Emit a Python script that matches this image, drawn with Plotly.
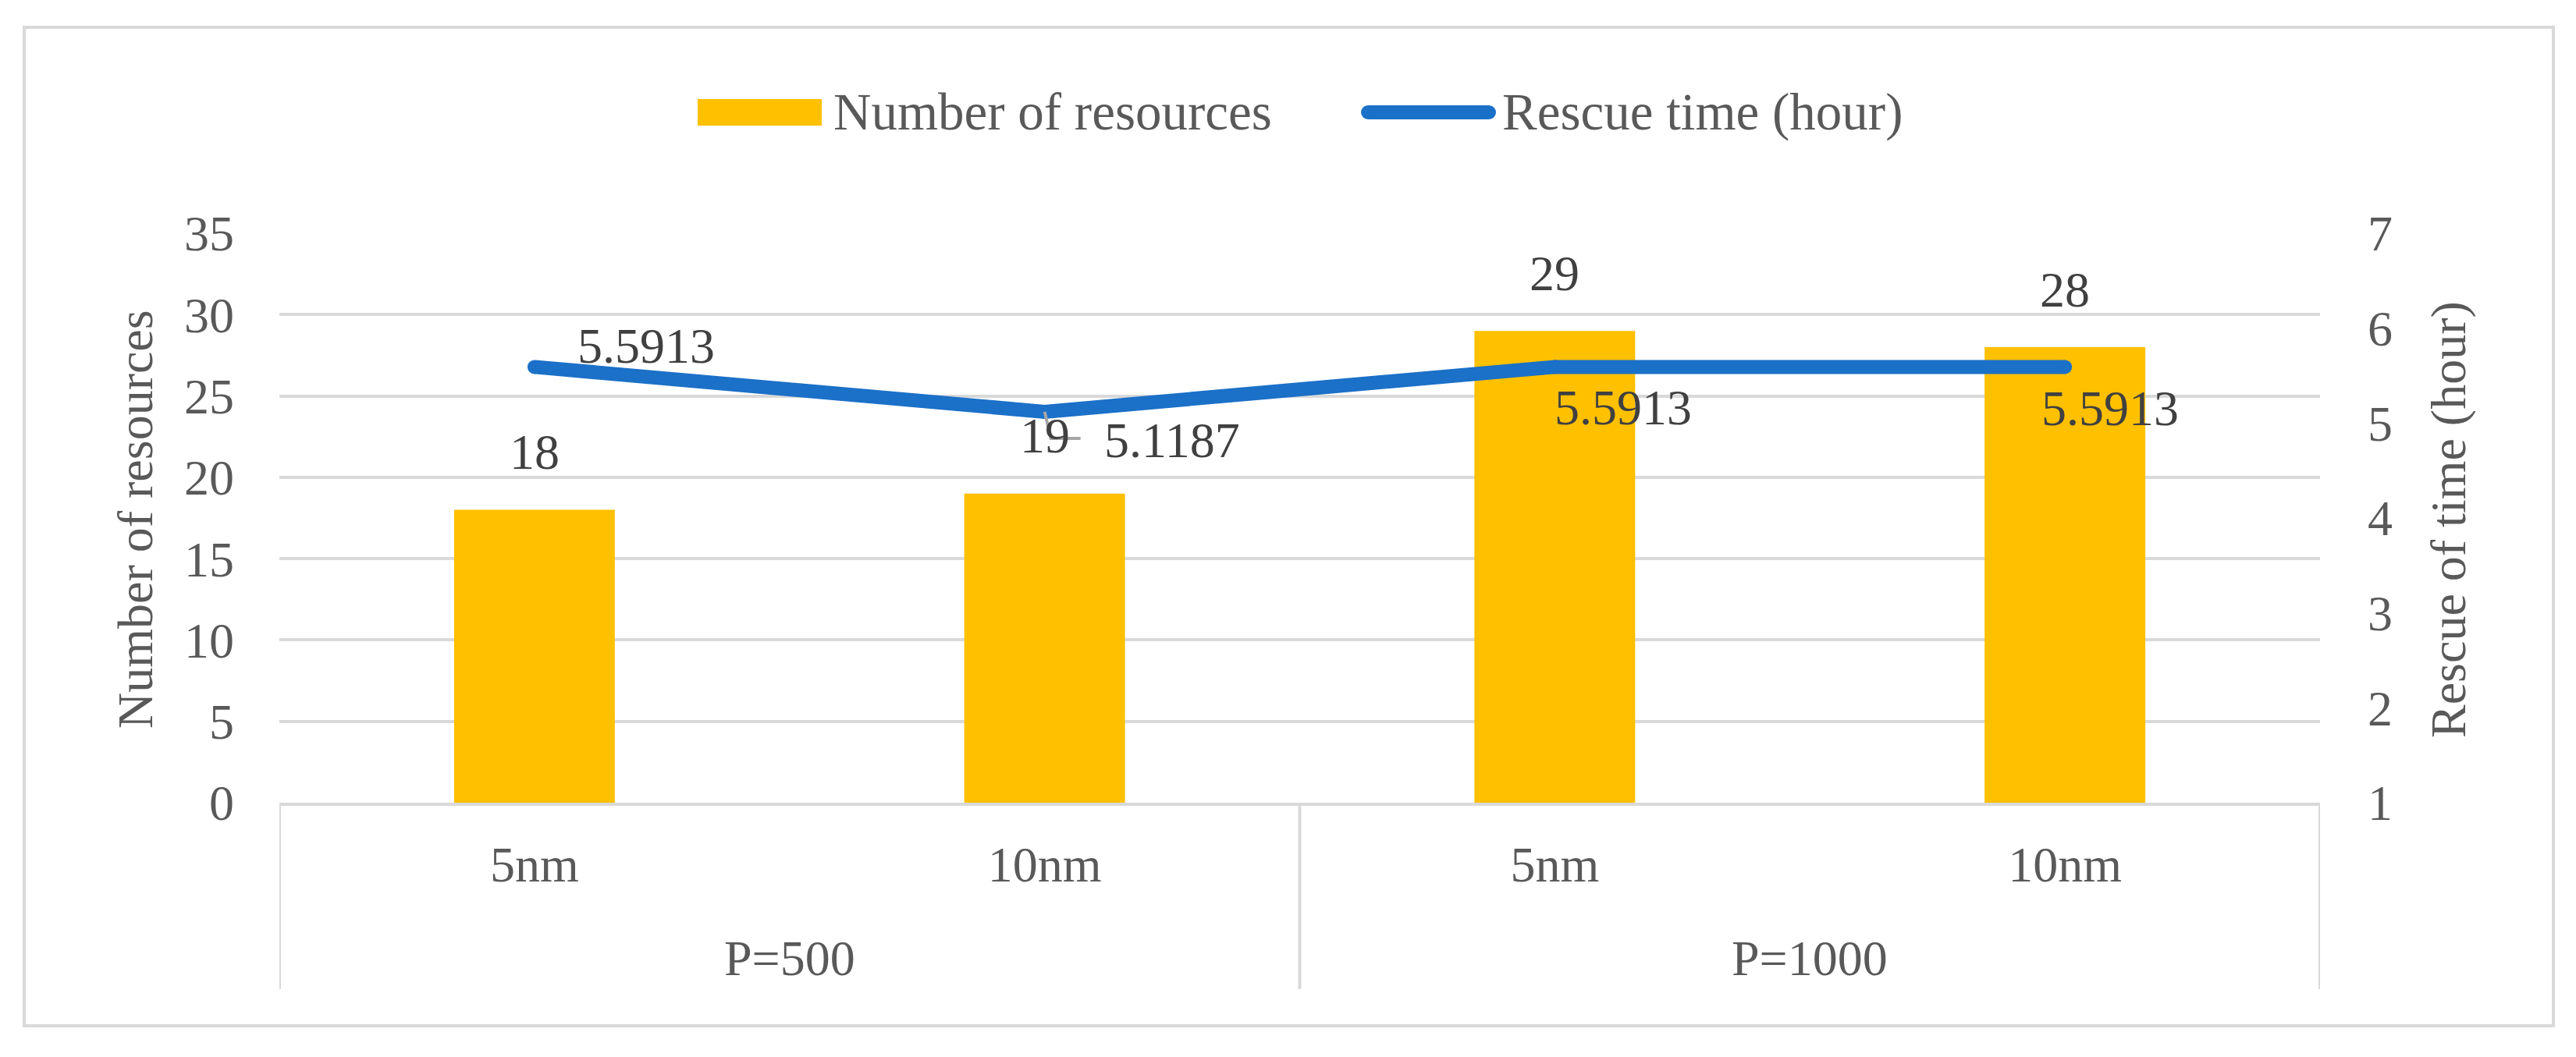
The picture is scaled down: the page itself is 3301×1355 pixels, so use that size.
import plotly.graph_objects as go

# ---------------- data ----------------
sub_categories = ["5nm", "10nm", "5nm", "10nm"]
group_of = ["P=500", "P=500", "P=1000", "P=1000"]
groups = ["P=500", "P=1000"]
resources = [18, 19, 29, 28]
rescue_time = [5.5913, 5.1187, 5.5913, 5.5913]
y_ticks = [0, 5, 10, 15, 20, 25, 30, 35]
y2_ticks = [1, 2, 3, 4, 5, 6, 7]
series_names = ["Number of resources", "Rescue time (hour)"]
y_title = "Number of resources"
y2_title = "Rescue of time (hour)"

# ---------------- layout constants ----------------
W, H = 3301, 1355
L, R, T, B = 358, 2973, 299, 1029          # plot-area edges in pixels
FONT = "Liberation Serif, Times New Roman, serif"
FS = 64
LEG_FS = 67
BAR_C = "#FFC000"
LINE_C = "#1B70C8"
GRID_C = "#D9D9D9"
TICK_C = "#595959"
LABEL_C = "#404040"


def px(x):
    return (x - L) / (R - L)


def py(y):
    return (B - y) / (B - T)


idx = list(range(len(sub_categories)))

fig = go.Figure()
fig.add_trace(go.Bar(
    x=idx, y=resources, name=series_names[0], width=0.315,
    marker=dict(color=BAR_C, line=dict(width=0)), showlegend=False,
))
fig.add_trace(go.Scatter(
    x=idx, y=rescue_time, name=series_names[1], yaxis="y2",
    mode="lines+markers", line=dict(color=LINE_C, width=18),
    marker=dict(size=18, color=LINE_C, line=dict(width=0)), showlegend=False,
))

annotations = []
shapes = []

# bar data labels
for i, v in zip(idx, resources):
    annotations.append(dict(x=i, y=v, xref="x", yref="y", text=str(v), showarrow=False,
                            yshift=74, font=dict(family=FONT, size=FS, color=LABEL_C)))

# line data labels (pixel offsets as placed in the original)
line_label_offsets = [(143, 27), (163, -37), (88, -52), (58, -53)]
for i, v, (dx, dy) in zip(idx, rescue_time, line_label_offsets):
    annotations.append(dict(x=i, y=v, xref="x", yref="y2", text=f"{v:.4f}", showarrow=False,
                            xshift=dx, yshift=dy, font=dict(family=FONT, size=FS, color=LABEL_C)))

# leader line for the second line label
shapes.append(dict(type="path", xref="x", yref="y2", xsizemode="pixel", ysizemode="pixel",
                   xanchor=idx[1], yanchor=rescue_time[1],
                   path="M0,0 L8,-34 L46,-34", line=dict(color="#A6A6A6", width=4)))

# group labels and dividers
start = -0.5
for g in groups:
    n = group_of.count(g)
    center = start + n / 2
    annotations.append(dict(x=center, y=py(1228), xref="x", yref="paper", text=g, showarrow=False,
                            yanchor="middle", font=dict(family=FONT, size=FS, color=TICK_C)))
    shapes.append(dict(type="line", xref="x", yref="paper", x0=start, x1=start, y0=0, y1=py(1268),
                       line=dict(color=GRID_C, width=4)))
    start += n
shapes.append(dict(type="line", xref="x", yref="paper", x0=start, x1=start, y0=0, y1=py(1268),
                   line=dict(color=GRID_C, width=4)))

# axis titles
annotations.append(dict(x=px(173), y=py(666), xref="paper", yref="paper", text=y_title, textangle=-90,
                        xanchor="center", yanchor="middle",
                        showarrow=False, font=dict(family=FONT, size=FS, color=TICK_C)))
annotations.append(dict(x=px(3137), y=py(666), xref="paper", yref="paper", text=y2_title, textangle=-90,
                        xanchor="center", yanchor="middle",
                        showarrow=False, font=dict(family=FONT, size=FS, color=TICK_C)))

# custom legend
shapes.append(dict(type="rect", xref="paper", yref="paper", x0=px(894), x1=px(1053), y0=py(161), y1=py(127),
                   fillcolor=BAR_C, line=dict(width=0)))
shapes.append(dict(type="line", xref="paper", yref="paper", x0=px(1753), x1=px(1908), y0=py(144), y1=py(144),
                   line=dict(color=LINE_C, width=18)))
shapes.append(dict(type="circle", xref="paper", yref="paper", x0=px(1744), x1=px(1762), y0=py(153), y1=py(135),
                   fillcolor=LINE_C, line=dict(width=0)))
shapes.append(dict(type="circle", xref="paper", yref="paper", x0=px(1899), x1=px(1917), y0=py(153), y1=py(135),
                   fillcolor=LINE_C, line=dict(width=0)))
annotations.append(dict(x=px(1066), y=py(143), xref="paper", yref="paper", text=series_names[0],
                        xanchor="left", yanchor="middle", showarrow=False,
                        font=dict(family=FONT, size=LEG_FS, color=TICK_C)))
annotations.append(dict(x=px(1923), y=py(143), xref="paper", yref="paper", text=series_names[1],
                        xanchor="left", yanchor="middle", showarrow=False,
                        font=dict(family=FONT, size=LEG_FS, color=TICK_C)))

# outer chart border
shapes.append(dict(type="rect", xref="paper", yref="paper", x0=px(31), x1=px(3272), y0=py(1315), y1=py(35),
                   line=dict(color=GRID_C, width=4), layer="below"))

fig.update_layout(
    width=W, height=H, autosize=False,
    margin=dict(l=L, r=W - R, t=T, b=H - B, pad=0),
    paper_bgcolor="white", plot_bgcolor="white",
    font=dict(family=FONT, size=FS, color=TICK_C),
    xaxis=dict(range=[-0.5, len(idx) - 0.5], tickvals=idx, ticktext=sub_categories,
               showline=True, linecolor=GRID_C, linewidth=4, ticks="", showgrid=False, zeroline=False,
               tickfont=dict(family=FONT, size=FS, color=TICK_C), ticklabelstandoff=20),
    yaxis=dict(range=[0, 35], tickvals=y_ticks, showgrid=True, gridcolor=GRID_C, gridwidth=4,
               zeroline=False, showline=False, ticks="",
               tickfont=dict(family=FONT, size=FS, color=TICK_C), ticklabelstandoff=57),
    yaxis2=dict(range=[1, 7], tickvals=y2_ticks, overlaying="y", side="right", showgrid=False,
                zeroline=False, showline=False, ticks="",
                tickfont=dict(family=FONT, size=FS, color=TICK_C), ticklabelstandoff=60),
    annotations=annotations,
    shapes=shapes,
    showlegend=False,
)

fig.write_html("out.html", config={"displayModeBar": False},
               post_script="document.body.style.margin='0';document.body.style.overflow='hidden';")
